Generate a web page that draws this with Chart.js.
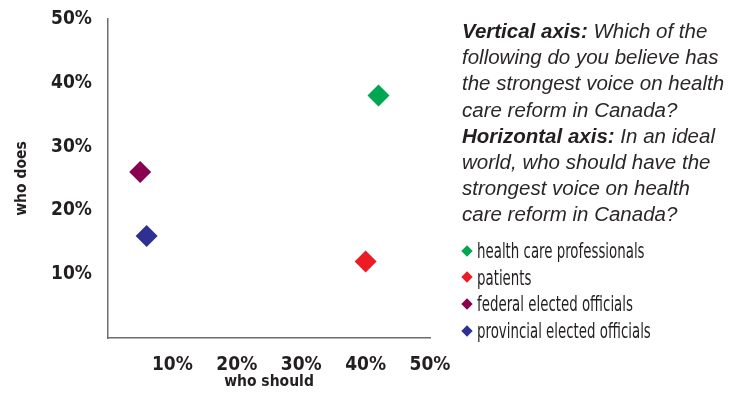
<!DOCTYPE html>
<html>
<head>
<meta charset="utf-8">
<script src="https://cdn.jsdelivr.net/npm/chart.js@4"></script>
<style>
  body { margin: 0; background: #fff; }
  #wrap { position: relative; width: 743px; height: 407px; }
  #chart { position: absolute; left: 0; top: 0; }
  #note {
    position: absolute; left: 462px; top: 18px; width: 280px; white-space: nowrap;
    font-family: "Liberation Sans", Arial, sans-serif; font-style: italic;
    font-size: 20.5px; line-height: 26.2px; color: #2b2728;
  }
  #note b { font-weight: bold; color: #231f20; }
  #legend { position: absolute; left: 460px; top: 238px; }
  .item {
    height: 26.7px; line-height: 26.7px; white-space: nowrap;
    font-family: "DejaVu Sans Condensed", sans-serif;
    font-size: 22px; color: #231f20;
  }
  .txt { display: inline-block; transform: scaleX(0.675); transform-origin: left center; }
  .dia {
    display: inline-block; width: 8px; height: 8px; transform: rotate(45deg);
    margin: 0 6px 3px 3px; vertical-align: middle;
  }
</style>
</head>
<body>
<div id="wrap">
  <canvas id="chart" width="743" height="407"></canvas>
  <div id="note">
    <b>Vertical axis:</b> Which of the<br>following do you believe has<br>the strongest voice on health<br>care reform in Canada?<br>
    <b>Horizontal axis:</b> In an ideal<br>world, who should have the<br>strongest voice on health<br>care reform in Canada?
  </div>
  <div id="legend"></div>
</div>
<script>
const groups = ["health care professionals", "patients", "federal elected officials", "provincial elected officials"];
const whoShould = [42, 40, 5, 6];
const whoDoes = [38, 12, 26, 16];
const colors = ["#00a650", "#ed1c24", "#8a0050", "#2e3192"];
const tickValues = [10, 20, 30, 40, 50];

const tickFont = { family: "'DejaVu Sans Condensed', sans-serif", size: 19, weight: "bold" };
const titleFont = { family: "'DejaVu Sans Condensed', sans-serif", size: 15.5, weight: "bold" };

const datasets = groups.map((g, i) => ({
    label: g,
    data: [{ x: whoShould[i], y: whoDoes[i] }],
    backgroundColor: colors[i],
    borderColor: colors[i],
    borderWidth: 0,
    pointStyle: "rectRot",
    pointRadius: 11,
    pointHoverRadius: 11
}));

// legend below the note
const legendDiv = document.getElementById("legend");
groups.forEach((g, i) => {
    legendDiv.innerHTML += `<div class="item"><span class="dia" style="background:${colors[i]}"></span><span class="txt">${g}</span></div>`;
});

const ctx = document.getElementById("chart").getContext("2d");

new Chart(ctx, {
    type: "scatter",
    data: { datasets: datasets },
    options: {
        responsive: false,
        animation: false,
        layout: { padding: { top: 19, right: 313, bottom: 0, left: 0 } },
        plugins: {
            legend: { display: false },
            tooltip: { enabled: false }
        },
        scales: {
            x: {
                min: 0, max: 50,
                afterBuildTicks: (scale) => { scale.ticks = tickValues.map(v => ({ value: v })); },
                afterFit: (scale) => { scale.height = 69; scale.paddingLeft = 0; scale.paddingRight = 0; },
                grid: { display: true, drawOnChartArea: false, drawTicks: false },
                border: { color: "#6d6d6d", width: 1.5 },
                ticks: {
                    padding: 16,
                    color: "#231f20",
                    font: tickFont,
                    callback: (v) => v + "%"
                },
                title: {
                    display: true, text: "who should", color: "#231f20",
                    font: titleFont, padding: { top: 0, bottom: 16 }
                }
            },
            y: {
                min: 0, max: 50,
                afterBuildTicks: (scale) => { scale.ticks = tickValues.map(v => ({ value: v })); },
                afterFit: (scale) => { scale.width = 108; scale.paddingTop = 0; scale.paddingBottom = 0; },
                grid: { display: true, drawOnChartArea: false, drawTicks: false },
                border: { color: "#6d6d6d", width: 1.5 },
                ticks: {
                    padding: 16,
                    color: "#231f20",
                    font: tickFont,
                    callback: (v) => v + "%"
                },
                title: {
                    display: true, text: "who does", color: "#231f20",
                    font: titleFont, padding: { top: 13, bottom: 0 }
                }
            }
        }
    }
});
</script>
</body>
</html>
